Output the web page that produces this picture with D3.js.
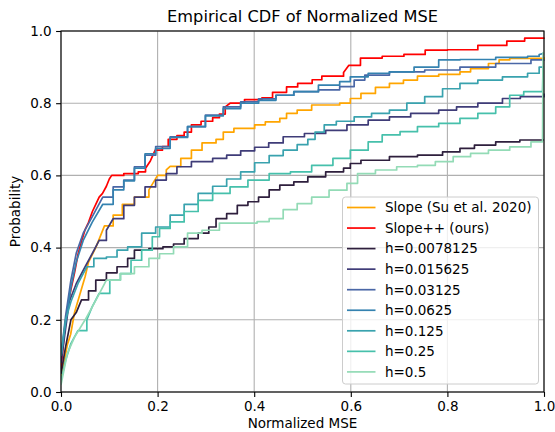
<!DOCTYPE html>
<html>
<head>
<meta charset="utf-8">
<script src="https://cdn.jsdelivr.net/npm/d3@7"></script>
<style>
  body { margin: 0; background: #ffffff; }
  svg { display: block; font-family: "DejaVu Sans", sans-serif; }
</style>
</head>
<body>
<svg id="chart" width="555" height="432"></svg>
<script>
// Values, [normalized MSE, probability]
var slopeSu = [[0,0.04],[0.006,0.08],[0.013,0.13],[0.02,0.16],[0.028,0.22],[0.039,0.27],[0.05,0.32],[0.057,0.36],[0.072,0.40],[0.09,0.46],[0.108,0.49],[0.127,0.52],[0.152,0.54],[0.182,0.56],[0.2,0.6],[0.218,0.615],[0.226,0.625],[0.248,0.647],[0.27,0.67],[0.292,0.69],[0.321,0.70],[0.336,0.72],[0.358,0.73],[0.401,0.74],[0.423,0.748],[0.453,0.758],[0.467,0.772],[0.489,0.781],[0.519,0.795],[0.577,0.80],[0.599,0.813],[0.621,0.827],[0.651,0.844],[0.68,0.855],[0.709,0.864],[0.738,0.875],[0.782,0.88],[0.826,0.887],[0.848,0.896],[0.885,0.91],[0.907,0.92],[0.929,0.924],[1.0,0.927]];

var slopePlus = [[0,0.06],[0.004,0.12],[0.008,0.18],[0.013,0.23],[0.02,0.28],[0.028,0.33],[0.035,0.38],[0.043,0.42],[0.05,0.45],[0.057,0.47],[0.065,0.5],[0.072,0.52],[0.079,0.54],[0.086,0.55],[0.094,0.57],[0.1,0.59],[0.105,0.6],[0.13,0.605],[0.16,0.61],[0.175,0.62],[0.185,0.64],[0.195,0.67],[0.21,0.68],[0.222,0.7],[0.24,0.71],[0.255,0.72],[0.27,0.74],[0.29,0.75],[0.314,0.76],[0.328,0.77],[0.34,0.79],[0.35,0.8],[0.38,0.81],[0.416,0.815],[0.438,0.83],[0.467,0.845],[0.49,0.855],[0.52,0.865],[0.54,0.875],[0.585,0.885],[0.596,0.905],[0.62,0.925],[0.665,0.93],[0.71,0.935],[0.754,0.947],[0.8,0.948],[0.863,0.96],[0.923,0.972],[0.96,0.98],[1.0,0.982]];

var h0078 = [[0,0.05],[0.0095,0.125],[0.0205,0.2],[0.0315,0.22],[0.0425,0.255],[0.057,0.28],[0.072,0.31],[0.094,0.33],[0.116,0.347],[0.138,0.37],[0.152,0.393],[0.182,0.397],[0.211,0.402],[0.233,0.41],[0.255,0.425],[0.284,0.44],[0.306,0.457],[0.321,0.48],[0.343,0.494],[0.365,0.517],[0.387,0.527],[0.409,0.54],[0.431,0.56],[0.453,0.573],[0.482,0.582],[0.511,0.596],[0.548,0.61],[0.585,0.62],[0.599,0.633],[0.621,0.642],[0.68,0.652],[0.738,0.656],[0.79,0.665],[0.826,0.675],[0.856,0.684],[0.9,0.693],[0.95,0.698],[1.0,0.698]];

var h0156 = [[0,0.08],[0.006,0.14],[0.017,0.25],[0.0315,0.3],[0.05,0.347],[0.0645,0.383],[0.079,0.42],[0.094,0.448],[0.108,0.48],[0.13,0.517],[0.152,0.54],[0.174,0.568],[0.196,0.587],[0.218,0.605],[0.24,0.624],[0.27,0.638],[0.314,0.647],[0.343,0.656],[0.372,0.668],[0.401,0.678],[0.43,0.69],[0.46,0.707],[0.504,0.716],[0.548,0.725],[0.592,0.74],[0.636,0.753],[0.68,0.762],[0.724,0.772],[0.782,0.781],[0.819,0.79],[0.863,0.8],[0.914,0.813],[0.951,0.818],[1.0,0.827]];

var h0312 = [[0,0.1],[0.0095,0.21],[0.0205,0.31],[0.0315,0.384],[0.046,0.44],[0.0645,0.485],[0.0865,0.54],[0.108,0.568],[0.13,0.587],[0.152,0.624],[0.174,0.656],[0.196,0.68],[0.226,0.707],[0.262,0.735],[0.299,0.767],[0.336,0.79],[0.372,0.804],[0.409,0.812],[0.445,0.822],[0.482,0.832],[0.533,0.837],[0.577,0.846],[0.607,0.864],[0.629,0.878],[0.68,0.887],[0.753,0.892],[0.826,0.9],[0.9,0.91],[0.973,0.92],[1.0,0.921]];

var h0625 = [[0,0.1],[0.0095,0.19],[0.0205,0.29],[0.0315,0.36],[0.046,0.42],[0.0645,0.47],[0.0865,0.52],[0.108,0.56],[0.13,0.585],[0.152,0.62],[0.174,0.66],[0.196,0.675],[0.226,0.705],[0.262,0.735],[0.299,0.765],[0.336,0.785],[0.372,0.8],[0.409,0.808],[0.445,0.822],[0.482,0.832],[0.533,0.85],[0.577,0.86],[0.599,0.873],[0.636,0.883],[0.68,0.887],[0.731,0.9],[0.782,0.92],[0.826,0.921],[0.9,0.927],[0.966,0.93],[0.99,0.935],[1.0,0.938]];

var h125 = [[0,0.1],[0.0095,0.2],[0.0205,0.25],[0.035,0.3],[0.0535,0.347],[0.068,0.37],[0.094,0.374],[0.116,0.393],[0.138,0.402],[0.167,0.44],[0.196,0.457],[0.226,0.49],[0.255,0.52],[0.284,0.55],[0.314,0.57],[0.343,0.59],[0.372,0.61],[0.401,0.635],[0.431,0.655],[0.46,0.67],[0.489,0.685],[0.511,0.7],[0.526,0.72],[0.545,0.74],[0.57,0.75],[0.607,0.762],[0.643,0.772],[0.68,0.781],[0.716,0.8],[0.753,0.818],[0.79,0.84],[0.826,0.855],[0.863,0.864],[0.914,0.873],[0.966,0.883],[0.99,0.9],[1.0,0.9]];

var h250 = [[0,0.03],[0.0095,0.088],[0.0205,0.134],[0.035,0.17],[0.0535,0.2],[0.0645,0.236],[0.079,0.273],[0.101,0.31],[0.123,0.328],[0.145,0.365],[0.167,0.393],[0.189,0.43],[0.204,0.453],[0.226,0.471],[0.255,0.5],[0.284,0.531],[0.314,0.55],[0.35,0.568],[0.387,0.587],[0.431,0.605],[0.475,0.61],[0.519,0.628],[0.563,0.647],[0.599,0.67],[0.636,0.693],[0.665,0.712],[0.702,0.721],[0.738,0.735],[0.782,0.744],[0.826,0.758],[0.863,0.772],[0.9,0.79],[0.929,0.822],[0.958,0.832],[0.997,0.836],[0.998,0.9],[1.0,0.9]];

var h500 = [[0,0.02],[0.013,0.106],[0.028,0.152],[0.05,0.2],[0.072,0.254],[0.094,0.31],[0.123,0.328],[0.152,0.347],[0.182,0.37],[0.204,0.383],[0.233,0.402],[0.262,0.44],[0.292,0.448],[0.328,0.468],[0.365,0.468],[0.406,0.472],[0.431,0.48],[0.46,0.505],[0.489,0.522],[0.519,0.54],[0.555,0.559],[0.592,0.578],[0.614,0.605],[0.651,0.615],[0.695,0.624],[0.738,0.628],[0.775,0.638],[0.812,0.652],[0.848,0.661],[0.885,0.67],[0.929,0.679],[0.973,0.693],[0.997,0.698],[0.998,0.94],[1.0,0.94]];

var seriesNames = ["Slope (Su et al. 2020)", "Slope++ (ours)", "h=0.0078125", "h=0.015625",
  "h=0.03125", "h=0.0625", "h=0.125", "h=0.25", "h=0.5"];
var seriesData = [slopeSu, slopePlus, h0078, h0156, h0312, h0625, h125, h250, h500];
var seriesColors = ["#ffa500", "#ff0000", "#2e1f3d", "#3f3c78", "#4a67a6", "#3482b0",
  "#39a2ae", "#46c0ab", "#93dbb6"];
var tickValues = [0, 0.2, 0.4, 0.6, 0.8, 1.0];

// Layout
var width = 555, height = 432;
var margin = {top: 31, right: 11, bottom: 40, left: 61};
var plotW = width - margin.left - margin.right;
var plotH = height - margin.top - margin.bottom;

var svg = d3.select("#chart");

var x = d3.scaleLinear().domain([0, 1]).range([0, plotW]);
var y = d3.scaleLinear().domain([0, 1]).range([plotH, 0]);

var g = svg.append("g").attr("transform", "translate(" + margin.left + "," + margin.top + ")");

// grid
g.append("g").selectAll("line.vgrid").data(tickValues).enter().append("line")
  .attr("x1", function(d) { return x(d); }).attr("x2", function(d) { return x(d); })
  .attr("y1", 0).attr("y2", plotH)
  .style("stroke", "#b0b0b0").style("stroke-width", 1.1);
g.append("g").selectAll("line.hgrid").data(tickValues).enter().append("line")
  .attr("y1", function(d) { return y(d); }).attr("y2", function(d) { return y(d); })
  .attr("x1", 0).attr("x2", plotW)
  .style("stroke", "#b0b0b0").style("stroke-width", 1.1);

// clip
svg.append("defs").append("clipPath").attr("id", "plotclip")
  .append("rect").attr("x", 0).attr("y", -1).attr("width", plotW + 1).attr("height", plotH + 2);

// ECDF look: steep stretches are joined straight (the real steps are tiny there),
// flatter gaps get a flat run then a jump
function stepVertices(s) {
  var out = [s[0]];
  for (var i = 1; i < s.length; i++) {
    var dx = s[i][0] - s[i - 1][0], dy = s[i][1] - s[i - 1][1];
    if (dx > 0.012 && dy / dx < 2) out.push([s[i][0], s[i - 1][1]]);
    out.push(s[i]);
  }
  return out;
}

var line = d3.line()
  .x(function(d) { return x(d[0]); })
  .y(function(d) { return y(d[1]); });

var lines = g.append("g").attr("clip-path", "url(#plotclip)");
seriesData.forEach(function(s, i) {
  lines.append("path")
    .datum(stepVertices(s))
    .attr("d", line)
    .style("fill", "none")
    .style("stroke", seriesColors[i])
    .style("stroke-width", 1.7)
    .style("stroke-linejoin", "round");
});

// axes
var xAxis = d3.axisBottom(x).tickValues(tickValues).tickFormat(d3.format(".1f"))
  .tickSize(4.9).tickPadding(4.5);
var yAxis = d3.axisLeft(y).tickValues(tickValues).tickFormat(d3.format(".1f"))
  .tickSize(4.9).tickPadding(4.5);

var gx = g.append("g").attr("transform", "translate(0," + plotH + ")").call(xAxis);
var gy = g.append("g").call(yAxis);
[gx, gy].forEach(function(a) {
  a.select(".domain").remove();
  a.selectAll(".tick line").style("stroke", "#000").style("stroke-width", 1.1);
  a.selectAll(".tick text").style("font-size", "13.5px").style("fill", "#000")
    .style("font-family", "DejaVu Sans, sans-serif");
});

// spines
g.append("rect").attr("x", 0).attr("y", 0).attr("width", plotW).attr("height", plotH)
  .style("fill", "none").style("stroke", "#000").style("stroke-width", 1.1);

// title and labels
svg.append("text")
  .attr("x", margin.left + plotW / 2).attr("y", 22)
  .attr("text-anchor", "middle")
  .style("font-size", "16.2px").style("fill", "#000")
  .text("Empirical CDF of Normalized MSE");

svg.append("text")
  .attr("x", margin.left + plotW / 2).attr("y", 428)
  .attr("text-anchor", "middle")
  .style("font-size", "13.5px").style("fill", "#000")
  .text("Normalized MSE");

svg.append("text")
  .attr("transform", "translate(20," + (margin.top + plotH / 2) + ") rotate(-90)")
  .attr("text-anchor", "middle")
  .style("font-size", "13.5px").style("fill", "#000")
  .text("Probability");

// legend
var legend = svg.append("g").attr("transform", "translate(342.5,197)");
legend.append("rect")
  .attr("width", 196).attr("height", 187).attr("rx", 3).attr("ry", 3)
  .style("fill", "#ffffff").style("fill-opacity", 0.8)
  .style("stroke", "#cccccc").style("stroke-width", 1);

seriesNames.forEach(function(name, i) {
  var cy = 10.5 + i * 20.55;
  legend.append("line")
    .attr("x1", 4.5).attr("x2", 33).attr("y1", cy).attr("y2", cy)
    .style("stroke", seriesColors[i]).style("stroke-width", 1.7);
  legend.append("text")
    .attr("x", 42.5).attr("y", cy).attr("dy", "0.36em")
    .style("font-size", "13.5px").style("fill", "#000")
    .text(name);
});
</script>
</body>
</html>
